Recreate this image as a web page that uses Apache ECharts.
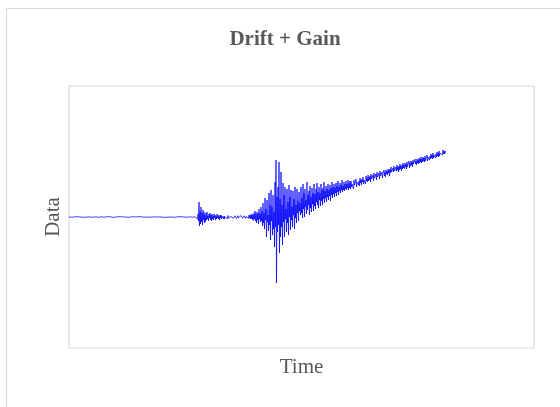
<!DOCTYPE html>
<html>
<head>
<meta charset="utf-8">
<script src="https://cdn.jsdelivr.net/npm/echarts@6/dist/echarts.min.js"></script>
<style>
html,body{margin:0;padding:0;background:#fff;}
#chart{width:560px;height:407px;}
</style>
</head>
<body>
<div id="chart"></div>
<script>
// Signal, two samples per time step (arbitrary data units)
var quietSignal = [
  0.2,-0.1,0.3,-0.2,0.1,-0.3,0.2,0,-0.2,0.3,-0.1,0.1,-0.3,0.2,-0.1,0.1,
  -0.2,0.3,-0.1,0.2,-0.3,0.1,0,-0.2,0.2,-0.1,0.3,-0.2,0.1,-0.1,0.2,-0.3,
  0.1,-0.2,0.2,-0.1,0.3,-0.3,0.1,0.2,-0.2,0.1,-0.1,0.3,-0.2,0,0.2,-0.1,
  0.3,-0.2,0.1,-0.3,0.2,-0.1,0.1,-0.2,0.3,-0.1,0.2,-0.3,0.1,0,-0.2,0.2,
  -0.1,0.2,-0.3,0.1,-0.1,0.3,-0.2,0.1,0.2,-0.2,0.1,-0.3,0.2,-0.1,0.1,0,
  0.2,-0.2,0.3,-0.1,0.1,-0.2,0.2,-0.3,0.1,0.1,-0.1,0.3,-0.2,0.2,-0.1,0,
  -0.2,0.1,0.3,-0.3,0.2,-0.1,0.1,-0.2,0.2,-0.1,0.3,-0.2,0,0.1,-0.3,0.2,
  0.1,-0.2,0.2,-0.1,0.3,-0.2,0.1,-0.1,0.2,-0.3,0.1,0.2,-0.2,0.1,-0.1,0.3,
  -0.1,0.2,-0.2,0.3,-0.1,0.1,-0.3,0.2,0,-0.2,0.1,0.3,-0.2,0.1,-0.1,0.2,
  0.3,-0.3,0.1,-0.1,0.2,-0.2,0.1,0.3,-0.2,0.2,-0.1,0,0.2,-0.3,0.1,-0.1,
  -0.2,0.2,0.1,-0.1,0.3,-0.2,0.2,-0.3,0.1,0,-0.1,0.2,-0.2,0.3,-0.1,0.1,
  0.2,-0.1,-0.2,0.3,-0.3,0.1,0.2,-0.2,0.1,-0.1,0.3,-0.2,0,0.2,-0.1,-0.2,
  0.1,-0.3,0.2,0.1,-0.1,0.2,-0.2,0.3,-0.1,0.1,-0.2,0,0.2,-0.3,0.3,-0.1,
  -0.1,0.3,-0.2,0.1,0.2,-0.3,0.1,-0.1,0.2,-0.2,0.3,-0.1,0.1,0,-0.2,0.2,
  0.2,-0.2,0.1,-0.3,0.3,-0.1,0.1,-0.2,0.2,0,-0.1,0.3,-0.3,0.1,-0.2,0.2,
  -0.3,0.1,0.2,-0.1,0.1,-0.2,0.3,-0.2,0.1,-0.1,0.2,-0.3,0.2,0.1,-0.2,0.1
];
var foreshock = [1,-2,3,-4,15,-9,6,-7,10,-5,4,-8,7,-3,5,-6,2,-5];
var foreshockTail = [
  4,-3,5,-2,1,-4,3,-1,4,-3,2,-4,3,-2,1,-3,3,-1,2,-3,1,-2,3,-1,
  2,-2,1,-3,2,-1,2,-2,1,-1,2,-2,1,-2,0.5,-1,2,-1,1,-2,1.5,-1,1,-1.5
];
var interlude = [
  1,-1.5,0.5,-1,1.5,-0.5,1,-1.2,0.8,-1,1.2,-0.6,1,-1.5,0.5,-1,1.3,-0.8,1,-1.2,
  0.6,-1,1.4,-0.5,1,-1.3,0.7,-1,1.2,-0.8,1,-1.5,0.6,-1.1,1.4,-0.7,1.1,-1.3,2,-1,
  1.5,-2,2.5,-1.5,3,-2.5,2,-3.5,4,-2,6,-4,3,-6
];
var onset = [5,-3,4,-7,8,-2,3,-5,10,-4,6,-9];
var mainShock = [
  14,-6,4,-12,19,-3,8,-20,17,-5,2,-14,24,-8,12,-23,27,-4,10,-18,
  22,-12,5,-30,35,-10,57,-66,20,-15,30,-8,55,-36,18,-20,45,-10,12,-28,
  34,-5,22,-20,30,-2,8,-15,28,-6,15,-18,32,0,20,-13,27,-3,10,-10,
  26,2,18,-12,30,-1,12,-6,28,4,16,-4,25,6,14,2
];
var coda = [
  30,4,19,-1,33,8,24,0,28,10,17,3,35,7,22,12,26,2,31,9,
  20,5,29,13,24,6,33,11,23,8,28,15,34,12,25,9,30,17,24,11,
  33,16,27,12,29,18,35,14,26,19,31,15,28,20,33,17,27,21,32,16,
  29,22,35,19,30,23,33,20,29,24,34,21,31,25,36,22,30,26,34,24,
  32,27,37,25,31,27,35,26,33,28,36,27,33,29,37,27,34,29,36,28
];
var driftTail = [
  36,30,33,31,35,28,37,32,34,31,38,30,35,33,37,32,36,31,39,34,
  37,32,38,35,40,33,37,35,39,33,41,36,39,35,42,36,40,37,41,35,
  43,38,40,37,42,36,44,39,41,38,43,37,45,40,42,39,44,38,46,41,
  43,40,45,39,44,42,47,41,45,40,47,43,46,42,48,44,47,41,48,44,
  50,45,47,43,49,45,51,46,48,44,50,46,52,47,50,45,51,47,53,48,
  51,46,52,48,54,49,52,48,54,50,53,48,55,50,53,51,56,49,54,51,
  56,52,55,50,57,53,55,52,58,53,56,52,58,54,57,53,59,54,58,55,
  60,54,58,55,60,56,59,55,61,56,59,57,62,56,60,58,62,57,61,58,
  63,59,62,58,64,59,62,60,64,59,63,60,65,61,64,60,66,61,64,62,
  66,62,65,62,67,63,66,63,66,64
];

var signal = [].concat(quietSignal, foreshock, foreshockTail, interlude, onset, mainShock, coda, driftTail);
var seriesData = signal.map(function (v, i) { return [i, v]; });

var serif = "'Liberation Serif','Times New Roman',serif";
var chart = echarts.init(document.getElementById('chart'), null, {renderer: 'canvas'});
chart.setOption({
  animation: false,
  backgroundColor: '#ffffff',
  graphic: [{
    type: 'rect',
    shape: {x: 6.5, y: 8.5, width: 700, height: 600},
    style: {fill: 'none', stroke: '#d9d9d9', lineWidth: 1.2},
    silent: true
  }],
  title: {
    text: 'Drift + Gain',
    left: 285,
    textAlign: 'center',
    top: 29,
    padding: 0,
    textStyle: {fontFamily: serif, fontWeight: 'bold', fontSize: 21, color: '#595959'}
  },
  grid: {
    left: 69, right: 26, top: 86, bottom: 59,
    show: true, borderColor: '#d9d9d9', borderWidth: 1.2, backgroundColor: 'transparent'
  },
  xAxis: {
    type: 'value', min: 0, max: 930,
    name: 'Time', nameLocation: 'middle', nameGap: 9,
    nameTextStyle: {fontFamily: serif, fontSize: 21, color: '#595959'},
    axisLine: {show: false}, axisTick: {show: false}, axisLabel: {show: false}, splitLine: {show: false}
  },
  yAxis: {
    type: 'value', min: -131, max: 131,
    name: 'Data', nameLocation: 'middle', nameGap: 5,
    nameTextStyle: {fontFamily: serif, fontSize: 21, color: '#595959'},
    axisLine: {show: false}, axisTick: {show: false}, axisLabel: {show: false}, splitLine: {show: false}
  },
  series: [{
    type: 'line',
    data: seriesData,
    showSymbol: false,
    symbol: 'none',
    lineStyle: {color: '#0000ff', width: 0.75, opacity: 1},
    silent: true
  }]
});
</script>
</body>
</html>
